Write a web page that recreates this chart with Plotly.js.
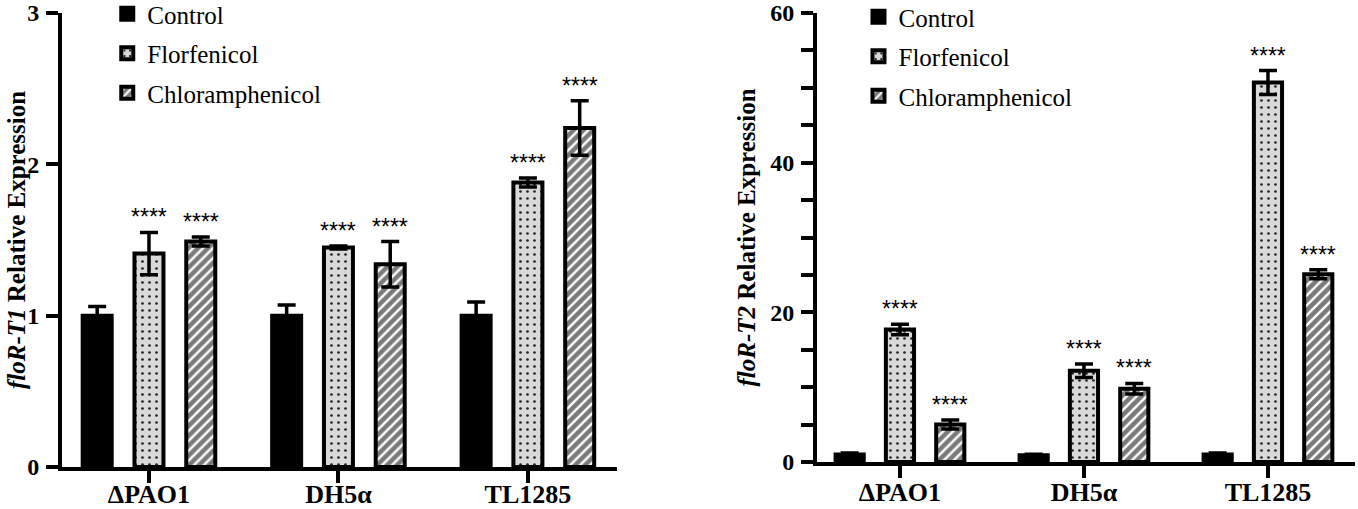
<!DOCTYPE html>
<html>
<head>
<meta charset="utf-8">
<script src="https://cdn.plot.ly/plotly-3.0.1.min.js"></script>
<style>html,body{margin:0;padding:0;background:#fff;}#chart{width:1358px;height:509px;}</style>
</head>
<body>
<div id="chart"></div>
<script>
// ---- data ----
var categories = ['ΔPAO1', 'DH5α', 'TL1285'];
var seriesNames = ['Control', 'Florfenicol', 'Chloramphenicol'];

var t1Control = [1.00, 1.00, 1.00];
var t1ControlErr = [0.06, 0.07, 0.09];
var t1Florfenicol = [1.41, 1.45, 1.88];
var t1FlorfenicolErr = [0.14, 0.01, 0.03];
var t1Chloramphenicol = [1.49, 1.34, 2.24];
var t1ChloramphenicolErr = [0.03, 0.15, 0.18];

var t2Control = [1.0, 0.9, 1.0];
var t2ControlErr = [0.2, 0.15, 0.2];
var t2Florfenicol = [17.7, 12.2, 50.7];
var t2FlorfenicolErr = [0.7, 0.9, 1.6];
var t2Chloramphenicol = [5.0, 9.8, 25.1];
var t2ChloramphenicolErr = [0.6, 0.7, 0.6];

var sigLabel = '****';

// ---- styles ----
var serif = "'Liberation Serif', 'Times New Roman', serif";
var markers = [
  {color: '#000000', line: {color: '#000', width: 4}},
  {color: '#d9d9d9', line: {color: '#000', width: 4},
   pattern: {shape: '.', bgcolor: '#d9d9d9', fgcolor: '#222', size: 7, solidity: 0.12, fillmode: 'replace'}},
  {color: '#808080', line: {color: '#000', width: 4},
   pattern: {shape: '/', bgcolor: '#7a7a7a', fgcolor: '#ffffff', size: 7, solidity: 0.35, fillmode: 'replace'}}
];

function makeTraces(vals, errs, xa, ya, leg) {
  return vals.map(function (v, i) {
    return {
      type: 'bar', name: seriesNames[i], x: categories, y: v,
      xaxis: xa, yaxis: ya, legend: leg, legendgroup: leg + '_' + i,
      marker: markers[i],
      error_y: {type: 'data', array: errs[i], visible: true, color: '#000', thickness: 3.5, width: 9},
      hoverinfo: 'skip'
    };
  });
}

var traces = makeTraces([t1Control, t1Florfenicol, t1Chloramphenicol],
                        [t1ControlErr, t1FlorfenicolErr, t1ChloramphenicolErr], 'x', 'y', 'legend')
  .concat(makeTraces([t2Control, t2Florfenicol, t2Chloramphenicol],
                     [t2ControlErr, t2FlorfenicolErr, t2ChloramphenicolErr], 'x2', 'y2', 'legend2'));

var bargap = 0.18;
var slot = (1 - bargap) / 3;

var annotations = [];
function addStars(vals, errs, xref, yref) {
  [1, 2].forEach(function (s) {
    vals[s].forEach(function (v, c) {
      annotations.push({
        xref: xref, yref: yref, x: c + (s - 1) * slot, y: v + errs[s][c],
        text: sigLabel, showarrow: false, yanchor: 'middle', yshift: 15,
        font: {family: "'Liberation Sans', Arial, sans-serif", size: 23, color: '#000'}
      });
    });
  });
}
addStars([t1Control, t1Florfenicol, t1Chloramphenicol], [t1ControlErr, t1FlorfenicolErr, t1ChloramphenicolErr], 'x', 'y');
addStars([t2Control, t2Florfenicol, t2Chloramphenicol], [t2ControlErr, t2FlorfenicolErr, t2ChloramphenicolErr], 'x2', 'y2');

annotations.push({
  xref: 'paper', yref: 'y domain', x: 0, y: 0.5, xanchor: 'center', yanchor: 'middle', xshift: -46,
  textangle: -90, showarrow: false,
  text: '<i>floR-T1</i> Relative Expression',
  font: {family: serif, size: 25, color: '#000', weight: 700}
});
annotations.push({
  xref: 'paper', yref: 'y2 domain', x: 0.5839, y: 0.5, xanchor: 'center', yanchor: 'middle', xshift: -70,
  textangle: -90, showarrow: false,
  text: '<i>floR-T2</i> Relative Expression',
  font: {family: serif, size: 25, color: '#000', weight: 700}
});

var t2TickVals = [], t2TickText = [];
for (var k = 0; k <= 60; k += 5) { t2TickVals.push(k); t2TickText.push(k % 20 === 0 ? String(k) : ''); }

var tickFont = {family: serif, size: 24, color: '#000', weight: 700};
var catFont = {family: serif, size: 26, color: '#000', weight: 700};
var axisCommon = {showline: true, linecolor: '#000', linewidth: 4, ticks: 'outside', tickcolor: '#000',
                  tickwidth: 4, ticklen: 12, showgrid: false, zeroline: false, automargin: false, fixedrange: true};
var legendFont = {family: serif, size: 25, color: '#000', weight: 400};

var layout = {
  width: 1358, height: 509,
  margin: {l: 62, r: 3, t: 13, b: 42, autoexpand: false},
  paper_bgcolor: '#fff', plot_bgcolor: '#fff',
  font: {family: serif, color: '#000'},
  barmode: 'group', bargap: bargap, bargroupgap: 0.44,
  xaxis: Object.assign({}, axisCommon, {domain: [0, 0.4292], anchor: 'y', type: 'category',
          range: [-0.459, 2.47], tickfont: catFont, ticklabelstandoff: -11}),
  yaxis: Object.assign({}, axisCommon, {domain: [0, 1], anchor: 'x', range: [0, 3],
          tickvals: [0, 1, 2, 3], tickfont: tickFont, ticklabelstandoff: 2}),
  xaxis2: Object.assign({}, axisCommon, {domain: [0.5839, 1], anchor: 'y2', type: 'category',
          range: [-0.451, 2.473], tickfont: catFont, ticklabelstandoff: -8}),
  yaxis2: Object.assign({}, axisCommon, {domain: [5 / 454, 1], anchor: 'x2', range: [0, 60],
          tickvals: t2TickVals, ticktext: t2TickText, tickfont: tickFont, ticklabelstandoff: 2}),
  legend: {x: 0.035, y: 1 + 22 / 454, xanchor: 'left', yanchor: 'top', bgcolor: 'rgba(0,0,0,0)',
           font: legendFont, tracegroupgap: 4, traceorder: 'grouped', itemclick: false},
  legend2: {x: 0.616, y: 1 + 19 / 454, xanchor: 'left', yanchor: 'top', bgcolor: 'rgba(0,0,0,0)',
            font: legendFont, tracegroupgap: 4, traceorder: 'grouped', itemclick: false},
  showlegend: true,
  annotations: annotations
};

Plotly.newPlot('chart', traces, layout, {staticPlot: true, displayModeBar: false});
</script>
</body>
</html>
